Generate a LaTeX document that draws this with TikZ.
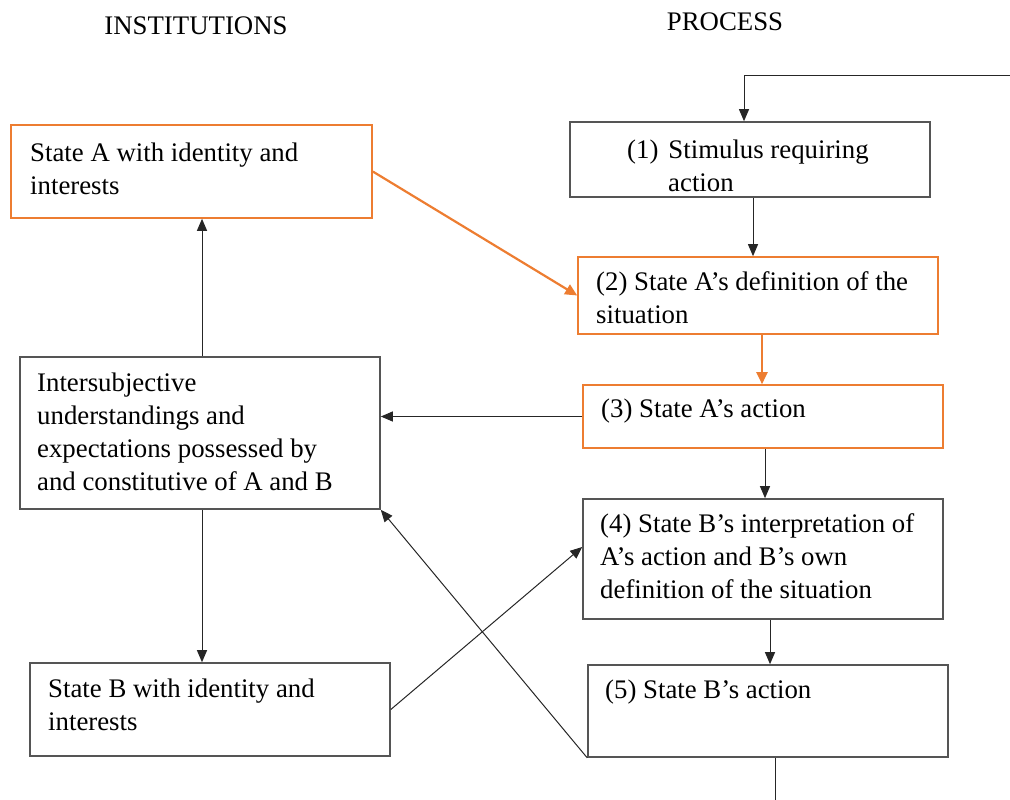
\documentclass[tikz,border=0pt]{standalone}
\usepackage{fontspec}
\setmainfont{Liberation Serif}
\usetikzlibrary{arrows.meta,fit,calc}
\definecolor{orng}{HTML}{ED7D31}
\definecolor{bord}{HTML}{555555}
\newcommand{\stk}[1]{\vtop{\baselineskip=33pt\lineskiplimit=-100pt\halign{##\hfil\cr#1\crcr}}}
\tikzset{
  bbox/.style={draw=bord, line width=1.6pt, inner sep=0pt},
  obox/.style={draw=orng, line width=1.6pt, inner sep=0pt},
  arr/.style={draw=black!85, line width=1pt, -{Triangle[length=12pt,width=10pt]}},
  oarr/.style={draw=orng, line width=2.2pt, -{Triangle[length=12pt,width=11pt]}},
  txt/.style={anchor=base west, inner sep=0pt, font=\fontsize{26.8}{33}\selectfont},
  head/.style={anchor=base, inner sep=0pt, font=\fontsize{26.8}{33}\selectfont}
}
\begin{document}
\begin{tikzpicture}[x=1pt,y=-1pt]
\useasboundingbox (0,0) rectangle (1010,800);
% headings
\node[head] (hInst) at (196,35) {INSTITUTIONS};
\node[head] (hProc) at (725,31) {PROCESS};
% boxes
\node[obox, fit={(11,125) (372,218)}] (sa) {};
\node[bbox, fit={(570,122) (930,197)}] (p1) {};
\node[obox, fit={(578,257) (938,334)}] (p2) {};
\node[obox, fit={(583,385) (943,448)}] (p3) {};
\node[bbox, fit={(20,357) (380,509)}] (inter) {};
\node[bbox, fit={(583,499) (943,619)}] (p4) {};
\node[bbox, fit={(30,663) (390,756)}] (sb) {};
\node[bbox, fit={(588,665) (948,757)}] (p5) {};
% texts
\node[txt] (saT) at (30,161) {\stk{State A with identity and\cr interests}};
\node[txt] (p1T) at (627,158) {\stk{(1)\hspace{10pt}Stimulus requiring\cr \hspace{41pt}action}};
\node[txt] (p2T) at (596,290) {\stk{(2) State A’s definition of the\cr situation}};
\node[txt] (p3T) at (601,417) {(3) State A’s action};
\node[txt] (interT) at (37,391) {\stk{Intersubjective\cr understandings and\cr expectations possessed by\cr and constitutive of A and B}};
\node[txt] (p4T) at (600,532) {\stk{(4) State B’s interpretation of\cr A’s action and B’s own\cr definition of the situation}};
\node[txt] (sbT) at (48,697) {\stk{State B with identity and\cr interests}};
\node[txt] (p5T) at (605,698) {(5) State B’s action};
% free ends
\coordinate (tin) at (1010,76);
\coordinate (bout) at (775,800);
% connectors
\draw[arr] (tin) -| ([xshift=-6pt]p1.north);
\draw[arr] ([xshift=3pt]p1.south) -- ([xshift=3pt]p1.south |- p2.north);
\draw[oarr] (sa.east) -- (p2.west);
\draw[oarr] ([xshift=4pt]p2.south) -- ([xshift=4pt]p2.south |- p3.north);
\draw[arr] (p3.west) -- (p3.west -| inter.east);
\draw[arr] ([xshift=2pt]p3.south) -- ([xshift=2pt]p3.south |- p4.north);
\draw[arr] ([xshift=7pt]p4.south) -- ([xshift=7pt]p4.south |- p5.north);
\draw[arr] ([xshift=2pt]inter.north) -- ([xshift=2pt]inter.north |- sa.south);
\draw[arr] ([xshift=2pt]inter.south) -- ([xshift=2pt]inter.south |- sb.north);
\draw[arr] (sb.east) -- ([yshift=12pt]p4.west);
\draw[arr] (p5.south west) -- (inter.south east);
\draw[line width=1pt, draw=black!85] (bout |- p5.south) -- (bout);
\end{tikzpicture}
\end{document}
